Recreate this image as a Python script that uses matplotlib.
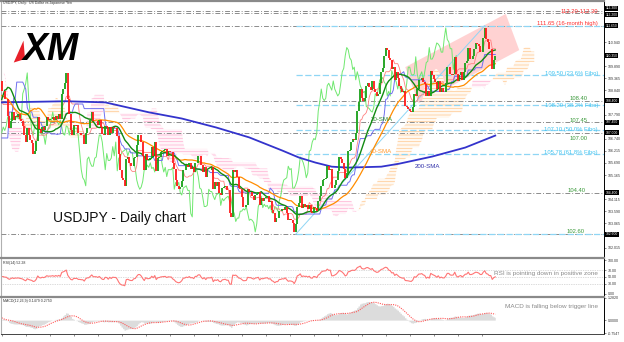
import numpy as np
import pandas as pd
import matplotlib
matplotlib.use('Agg')
import matplotlib.pyplot as plt
from matplotlib.patches import Polygon
from matplotlib.transforms import blended_transform_factory

# Daily closes used only to warm up the indicators (16 Dec 2019 - 6 Apr 2020)
warmup_close = [
    109.55, 109.45, 109.55, 109.35, 109.40, 109.40, 109.45, 109.40, 109.60, 109.45, 108.85, 108.60,
    108.55, 108.10, 108.35, 108.45, 109.10, 109.50, 109.45, 109.95, 109.95, 109.90, 110.15, 110.15,
    110.15, 109.85, 109.85, 109.45, 109.25, 108.90, 109.15, 109.00, 108.95, 108.35,
    108.65, 109.50, 109.85, 109.95, 109.75, 109.75, 109.80, 110.05, 109.85, 109.80, 109.85, 109.90,
    111.35, 112.10, 111.60, 110.75, 110.20, 110.40, 109.50, 107.90,
    108.30, 107.10, 107.50, 106.10, 105.35, 102.35, 105.60, 104.60, 104.60, 107.95, 105.80, 107.60,
    108.70, 110.75, 110.80, 111.20, 111.20, 111.20, 109.60, 107.95, 107.80, 107.55,
    107.20, 107.90, 108.50, 109.25,
]

# Visible daily closes, 7 Apr 2020 - 31 Dec 2020
close_2020 = [
    108.80, 108.80, 108.45, 108.45, 107.75, 107.20, 107.50, 107.90, 107.55, 107.75, 107.70, 107.80,
    107.60, 107.50, 107.30, 106.90, 106.60, 107.20,
    106.90, 106.70, 106.55, 106.10, 106.20, 106.65, 107.70, 107.15, 107.00, 107.25, 107.10, 107.30,
    107.70, 107.55, 107.60, 107.60, 107.70, 107.55, 107.75, 107.60, 107.80,
    107.60, 108.70, 108.90, 109.15, 109.60, 108.45, 107.80, 107.10, 106.90, 107.35, 107.30, 107.35,
    107.00, 107.00, 106.90, 106.90, 106.50, 107.00, 107.20, 107.20, 107.55, 107.90,
    107.50, 107.50, 107.50, 107.35, 107.55, 107.25, 106.95, 106.90, 107.30, 107.25, 106.90, 107.25,
    107.00, 107.25, 107.20, 107.20, 106.85, 106.10, 105.40, 105.05, 104.95, 104.70, 105.85,
    105.95, 105.70, 105.55, 105.55, 105.90, 105.95, 106.45, 106.90, 106.90, 106.60, 106.00, 105.40,
    106.10, 105.80, 105.80, 105.90, 106.40, 106.00, 106.60, 105.35, 105.90,
    105.95, 106.15, 106.20, 106.25, 106.30, 106.00, 106.20, 106.15, 106.15, 105.70, 105.45, 104.95,
    104.70, 104.55, 104.65, 104.90, 105.40, 105.40, 105.60, 105.50, 105.70, 105.45,
    105.50, 105.30, 105.70, 105.70, 106.00, 106.00, 105.60, 105.30, 105.50, 105.10, 105.40, 105.40,
    105.40, 105.50, 104.55, 104.85, 104.70, 104.85, 104.40, 104.30, 104.60, 104.65,
    104.70, 104.50, 104.50, 103.50, 103.35, 105.40, 105.30, 105.40, 105.10, 104.60, 104.55, 104.20,
    103.80, 103.80, 103.85, 104.55, 104.45, 104.45, 104.25, 104.10, 104.30,
    104.35, 104.45, 103.85, 104.15, 104.05, 104.15, 104.20, 104.25, 104.00, 104.05, 103.65, 103.50,
    103.15, 103.30, 103.30, 103.60, 103.60, 103.70, 103.65, 103.80, 103.50, 103.20, 103.25,
]

# Visible daily closes, 1 Jan 2021 - 12 Jul 2021
close_2021 = [
    103.20, 103.10, 102.70, 103.05, 103.80, 103.95, 104.25, 103.75, 103.90, 103.80, 103.85, 103.70,
    103.85, 103.55, 103.50, 103.80, 103.75, 103.60, 104.05, 104.25, 104.70,
    104.95, 105.00, 105.05, 105.55, 105.40, 105.45, 104.60, 104.60, 104.75, 104.95, 105.35, 105.95,
    105.85, 105.70, 105.45, 105.05, 105.25, 106.20, 106.25, 106.60,
    106.75, 106.70, 107.00, 107.95, 108.35, 108.90, 108.50, 108.40, 108.50, 109.05, 109.15, 109.00,
    108.85, 109.25, 108.90, 108.75, 108.60, 108.70, 109.15, 109.65, 109.80, 110.35, 110.70,
    110.60, 110.25, 110.15, 109.75, 109.85, 109.30, 109.65, 109.40, 109.05, 108.90, 108.75, 108.80,
    108.15, 108.10, 108.05, 107.95, 107.90, 108.10, 108.70, 108.60, 108.90, 109.30,
    109.30, 109.40, 109.20, 109.10, 108.60, 108.80, 108.60, 109.70, 109.50, 109.35, 109.20, 108.90,
    109.25, 108.75, 108.95, 108.75, 108.75, 109.15, 109.85, 109.85, 109.55,
    109.50, 109.55, 110.30, 109.55, 109.25, 109.50, 109.65, 109.30, 109.65, 110.05, 110.10, 110.70,
    110.20, 110.20, 110.35, 110.65, 110.90, 110.85, 110.75, 110.50, 110.50, 111.10,
    111.55, 111.05, 110.95, 110.65, 110.65, 109.75, 110.15, 110.35,
]

date_labels = ['7 Apr 2020', '29 Apr 2020', '21 May 2020', '12 Jun 2020', '6 Jul 2020',
               '28 Jul 2020', '19 Aug 2020', '10 Sep 2020', '2 Oct 2020', '26 Oct 2020',
               '18 Nov 2020', '9 Dec 2020', '31 Dec 2020', '25 Jan 2021', '16 Feb 2021',
               '10 Mar 2021', '30 Mar 2021', '21 Apr 2021', '13 May 2021', '4 Jun 2021',
               '28 Jun 2021']

# 200-SMA (bar index, value)
sma200_bar = [0, 43, 69, 98, 120, 143, 165, 187, 198, 209, 220, 231, 253, 265, 287, 309, 329]
sma200_val = [108.32, 108.37, 108.32, 107.89, 107.62, 107.23, 106.80, 106.23, 105.93, 105.71,
              105.53, 105.49, 105.53, 105.66, 105.97, 106.36, 106.88]

# horizontal support / resistance levels
levels = [112.30, 112.20, 111.65, 108.40, 107.45, 107.00, 104.40, 102.60]
# Fibonacci retracement of the 102.60 -> 111.65 up-leg
fibo_levels = [111.65, 109.50, 108.20, 107.10, 106.06, 102.60]
fibo_low_bar, fibo_high_bar = 196, 322

# text notes on the right (text, level, colour, nudge in points, right end in axes fraction)
note_text = ['112.20-112.30', '111.65 (16-month high)', '109.50 (23.6% Fibo)', '108.40',
             '108.20 (38.2% Fibo)', '107.45', '107.10 (50.0% Fibo)', '107.00',
             '105.78 (61.8% Fibo)', '104.40', '102.60']
note_level = [112.25, 111.65, 109.50, 108.40, 108.20, 107.45, 107.10, 107.00, 106.06, 104.40, 102.60]
note_color = ['#ff3030', '#ff3030', '#3ec3f0', '#3c9a3c', '#3ec3f0', '#3c9a3c', '#3ec3f0',
              '#3c9a3c', '#3ec3f0', '#3c9a3c', '#3c9a3c']
note_dy = [0, 1.3, 1.2, 1.7, -0.5, 1.4, 0.6, -4.3, 1.4, 1.6, 2.2]
note_x = [0.990, 0.990, 0.990, 0.973, 0.990, 0.973, 0.990, 0.973, 0.990, 0.970, 0.968]

# ascending channel drawn on the chart (bar, price)
channel_bar = [269, 336, 345, 278]
channel_val = [109.85, 112.16, 110.59, 108.28]

price_ticks = [112.515, 111.990, 111.465, 110.940, 110.415, 109.890, 109.365, 108.840, 108.315,
               107.790, 107.265, 106.740, 106.215, 105.690, 105.165, 104.640, 104.115, 103.590,
               103.065, 102.540, 102.015]
boxed_prices = [112.30, 112.20, 111.65, 110.35, 108.40, 107.45, 107.00, 104.40, 102.60]
boxed_dy = [1.8, -1.2, 0, 0, 0, 0, 0, 0, 0]

# ---------------------------------------------------------------- indicators
full = pd.Series(warmup_close + close_2020 + close_2021)
W = len(warmup_close)
N = len(close_2020) + len(close_2021)
x = np.arange(N)
close = full.values[W:]
open_ = full.shift(1).values[W:]

sma20 = full.rolling(20).mean().values[W:]
sma40 = full.rolling(40).mean().values[W:]

tenkan_full = (full.rolling(9).max() + full.rolling(9).min()) / 2
kijun_full = (full.rolling(26).max() + full.rolling(26).min()) / 2
spanA_full = (tenkan_full + kijun_full) / 2
spanB_full = (full.rolling(52).max() + full.rolling(52).min()) / 2
tenkan = tenkan_full.values[W:]
kijun = kijun_full.values[W:]
cloud_x = np.arange(len(full)) + 26 - W
keep = cloud_x >= 0
cloud_x = cloud_x[keep]
spanA = spanA_full.values[keep]
spanB = spanB_full.values[keep]

delta = full.diff()
gain = delta.clip(lower=0).ewm(alpha=1 / 14, adjust=False).mean()
loss = (-delta.clip(upper=0)).ewm(alpha=1 / 14, adjust=False).mean()
rsi = (100 - 100 / (1 + gain / loss)).values[W:]

macd_full = full.ewm(span=12, adjust=False).mean() - full.ewm(span=26, adjust=False).mean()
signal = macd_full.rolling(9).mean().values[W:]
macd = macd_full.values[W:]

# ---------------------------------------------------------------- figure
FW, FH = 624, 342
plt.rcParams['font.family'] = ['Liberation Sans', 'DejaVu Sans']
plt.rcParams['hatch.linewidth'] = 0.5
fig = plt.figure(figsize=(FW / 100, FH / 100), dpi=100)


def px_box(x0, y0, x1, y1):
    return [x0 / FW, 1 - y1 / FH, (x1 - x0) / FW, (y1 - y0) / FH]


ax = fig.add_axes(px_box(1, 1, 604, 257))
ax_rsi = fig.add_axes(px_box(1, 258, 604, 296), sharex=ax)
ax_macd = fig.add_axes(px_box(1, 297, 604, 334), sharex=ax)

xmax = (604 - 1) / 1.5 - 0.5
ax.set_xlim(-0.5, xmax)
ax.set_ylim(101.61, 112.72)
ax_rsi.set_ylim(-6, 106)
ax_macd.set_ylim(-0.80, 1.33)

for a in (ax, ax_rsi, ax_macd):
    a.set_facecolor('white')
    a.spines['top'].set_color('#8a8a8a')
    a.spines['top'].set_linewidth(1.6)
    a.spines['left'].set_color('#b0b0b0')
    a.spines['right'].set_color('black')
    a.spines['right'].set_linewidth(0.7)
    a.spines['bottom'].set_visible(False)
    a.yaxis.tick_right()
    a.tick_params(axis='y', labelsize=2.6, length=1.5, width=0.4, pad=1, colors='#333333')
    a.tick_params(axis='x', length=0)
    plt.setp(a.get_xticklabels(), visible=False)
ax_macd.spines['bottom'].set_visible(True)
ax_macd.spines['bottom'].set_color('#444444')
ax_macd.spines['bottom'].set_linewidth(0.7)

# ---------------------------------------------------------------- main panel
tr = blended_transform_factory(ax.transAxes, ax.transData)

# pink ascending channel
ax.add_patch(Polygon(list(zip(channel_bar, channel_val)), closed=True,
                     facecolor='#ffc4c4', edgecolor='none', alpha=0.75, zorder=1))

# Ichimoku cloud, hatched
up = spanA >= spanB
ax.fill_between(cloud_x, spanA, spanB, where=up, interpolate=True, facecolor='#fff8f0',
                edgecolor='#ffc890', hatch='-----', linewidth=0, zorder=2)
ax.fill_between(cloud_x, spanA, spanB, where=~up, interpolate=True, facecolor='#fff5f9',
                edgecolor='#ffb0d2', hatch='-----', linewidth=0, zorder=2)

# gray support / resistance lines over the whole width
for lv in levels:
    ax.axhline(lv, color='#8c8c8c', linewidth=0.7, linestyle=(0, (5, 2, 1, 2)), zorder=3)

# Fibonacci lines from the January low to the right
for lv in fibo_levels:
    ax.hlines(lv, fibo_low_bar, xmax, color='#8fd6f5', linewidth=0.9,
              linestyle=(0, (5, 2)), zorder=3)
ax.plot([fibo_low_bar, fibo_high_bar], [fibo_levels[-1], fibo_levels[0]],
        color='#8fd6f5', linewidth=0.7, zorder=3)

# moving averages and Ichimoku lines
ax.plot(x[:-26], close[26:], color='#6fe86f', linewidth=0.7, zorder=4)   # chikou
ax.plot(x, tenkan, color='#ff8080', linewidth=0.6, zorder=4)
ax.plot(x, kijun, color='#7070f0', linewidth=0.7, zorder=4)
ax.plot(sma200_bar, sma200_val, color='#3333cc', linewidth=1.3, zorder=4)
ax.plot(x, sma40, color='#ff8c00', linewidth=0.9, zorder=5)
ax.plot(x, sma20, color='#128a12', linewidth=1.0, zorder=5)

# candles (body from previous close to close)
rising = close >= open_
ax.vlines(x[rising], open_[rising], close[rising], colors='#18a018', linewidth=1.3, zorder=6)
ax.vlines(x[~rising], close[~rising], open_[~rising], colors='#ff1a1a', linewidth=1.3, zorder=6)

# notes on the right
for t, lv, c, dy, nx in zip(note_text, note_level, note_color, note_dy, note_x):
    ax.annotate(t, xy=(nx, lv), xycoords=tr, xytext=(0, dy), textcoords='offset points',
                ha='right', va='center', fontsize=4.2, color=c, zorder=7)

ax.text(246, 107.58, '20-SMA', fontsize=4.4, color='#2a8a2a', va='center', zorder=7)
ax.text(245.5, 106.19, '40-SMA', fontsize=4.4, color='#ff9a30', va='center', zorder=7)
ax.text(275, 105.53, '200-SMA', fontsize=4.4, color='#3333aa', va='center', zorder=7)

ax.text(52 / 603, 103.31, 'USDJPY - Daily chart', transform=tr, fontsize=10,
        color='#111111', va='center', zorder=7)
ax.text(0.003, 112.62, 'USDJPY, Daily:  US Dollar vs Japanese Yen', transform=tr,
        fontsize=2.5, color='#333333', va='center')

# XM logo
ax.add_patch(Polygon([(8, 110.05), (14.5, 111.0), (15.5, 110.2)], closed=True,
                     facecolor='#e8202a', edgecolor='none', zorder=7))
ax.text(14, 110.6, 'XM', fontsize=27, fontweight='heavy', fontstyle='italic',
        color='black', va='center', zorder=7)

# right scale: plain ticks, black boxes for marked prices
shown_ticks = [t for t in price_ticks if min(abs(t - p) for p in boxed_prices) > 0.25]
ax.set_yticks(shown_ticks)
ax.set_yticklabels([f'{t:.3f}' for t in shown_ticks])
for p, dy in zip(boxed_prices, boxed_dy):
    ax.annotate(f'{p:.3f}', xy=(1.003, p), xycoords=tr, xytext=(0, dy),
                textcoords='offset points', fontsize=2.4, color='white',
                va='center', ha='left', zorder=8, annotation_clip=False,
                bbox=dict(boxstyle='square,pad=0.15', facecolor='black', edgecolor='none'))

# ---------------------------------------------------------------- RSI
for lv in (70, 50, 30):
    ax_rsi.axhline(lv, color='#b8b8b8', linewidth=0.5, linestyle=(0, (1, 1.5)))
ax_rsi.plot(x, rsi, color='#ff7575', linewidth=0.8)
ax_rsi.set_yticks([100, 70, 50, 30, 0])
ax_rsi.set_yticklabels(['100.00', '70.00', '50.00', '30.00', '0.00'])
ax_rsi.text(0.003, 0.88, 'RSI(14) 52.28', transform=ax_rsi.transAxes, fontsize=2.6,
            color='#333333', va='center')
ax_rsi.text(0.99, 0.6, 'RSI is pointing down in positive zone', transform=ax_rsi.transAxes,
            fontsize=4.6, color='#8a8a8a', ha='right', va='center')

# ---------------------------------------------------------------- MACD
ax_macd.fill_between(x, 0, macd, step='mid', color='#dcdcdc', linewidth=0)
ax_macd.plot(x, signal, color='#ff5a5a', linewidth=0.8, linestyle=(0, (1, 1)))
ax_macd.set_yticks([1.2820, 0.0, -0.7547])
ax_macd.set_yticklabels(['1.2820', '0.0000', '-0.7547'])
ax_macd.text(0.003, 0.88, 'MACD(12,26,9) 0.1479 0.2750', transform=ax_macd.transAxes,
             fontsize=2.6, color='#333333', va='center')
ax_macd.text(0.99, 0.74, 'MACD is falling below trigger line', transform=ax_macd.transAxes,
             fontsize=4.6, color='#8a8a8a', ha='right', va='center')

ax_macd.set_xticks(np.arange(len(date_labels)) * 16)
ax_macd.set_xticklabels(date_labels)
ax_macd.tick_params(axis='x', length=1.5, width=0.4, labelsize=2.6, pad=1.5, colors='#333333')
plt.setp(ax_macd.get_xticklabels(), visible=True, ha='left')

fig.savefig('out.png', dpi=100, facecolor='white')
